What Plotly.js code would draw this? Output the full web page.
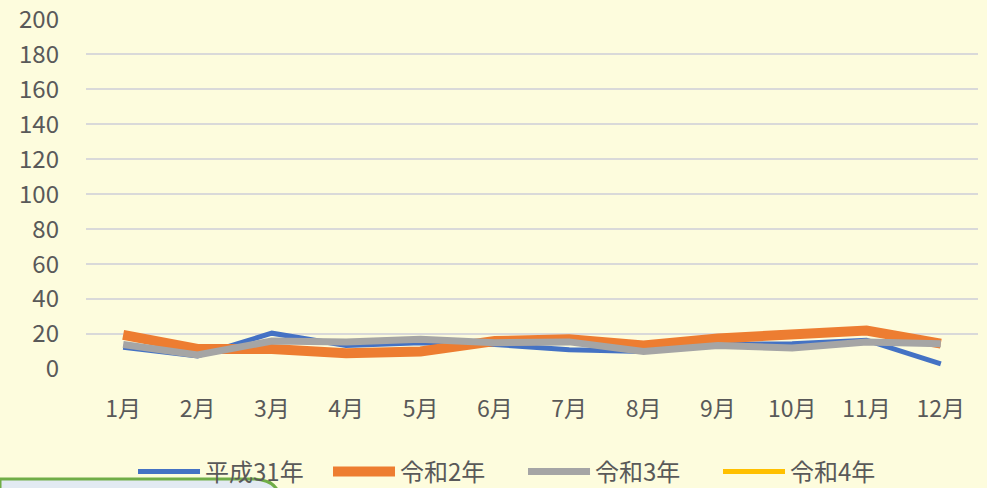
<!DOCTYPE html>
<html>
<head>
<meta charset="utf-8">
<script src="https://cdn.plot.ly/plotly-3.0.1.min.js"></script>
<style>html,body{margin:0;padding:0;background:#FDFCDD;}#chart{width:987px;height:488px;}</style>
</head>
<body>
<div id="chart"></div>
<script>
const months = ['1月','2月','3月','4月','5月','6月','7月','8月','9月','10月','11月','12月'];
const seriesNames = ['平成31年','令和2年','令和3年','令和4年'];
const h31 = [12.5, 7.5, 20.5, 13.5, 15, 14, 11, 10, 14, 14.5, 16.5, 3];
const r2  = [19.5, 11.5, 11.5, 9, 10, 16, 17, 13.5, 17.5, 19.5, 22, 14.5];
const r3  = [14, 8, 16, 15.5, 17, 15, 15.5, 10, 13.5, 12, 15.5, 14.5];
const r4  = [null, null, null, null, null, null, null, null, null, null, null, null];
const yTicks = [0,20,40,60,80,100,120,140,160,180,200];

const colors = ['#4472C4','#ED7D31','#A5A5A5','#FFC000'];
const widths = [5, 10, 7, 5];
const data = [h31, r2, r3, r4].map((ys, i) => ({
  type: 'scatter', mode: 'lines', x: months, y: ys, name: seriesNames[i],
  line: {color: colors[i], width: widths[i]}, connectgaps: false
}));

const F = '"Noto Sans CJK JP", "Noto Sans", sans-serif';
const layout = {
  width: 987, height: 488,
  paper_bgcolor: '#FDFCDD', plot_bgcolor: '#FDFCDD',
  margin: {l: 86, r: 9, t: 19, b: 119, autoexpand: false},
  font: {family: F, size: 24, color: '#595959'},
  showlegend: true,
  xaxis: {
    type: 'category', range: [-0.5, 11.5], showgrid: false, zeroline: false,
    showline: false, ticks: '', ticklabelstandoff: 24,
    tickfont: {family: F, size: 23, color: '#595959'}
  },
  yaxis: {
    range: [0, 200.2], tickvals: yTicks, showgrid: true, gridcolor: '#D9D9D9', gridwidth: 2,
    zeroline: false, showline: false, ticks: '', ticklabelstandoff: 26,
    ticklabeloverflow: 'allow',
    tickfont: {family: F, size: 24, color: '#595959'}
  },
  legend: {
    orientation: 'h', x: 0.0527, xanchor: 'left', y: -0.294, yanchor: 'middle',
    bgcolor: 'rgba(0,0,0,0)', itemwidth: 62, entrywidth: 118, entrywidthmode: 'pixels',
    font: {family: F, size: 24, color: '#595959'}
  },
  shapes: [{
    type: 'path', xref: 'paper', yref: 'paper', layer: 'above',
    path: 'M -0.0964,-0.38 L -0.0964,-0.314 L 0.185,-0.314 Q 0.2175,-0.314 0.2175,-0.38 Z',
    fillcolor: '#E2EAF2', line: {color: '#70AD47', width: 3}
  }]
};
Plotly.newPlot('chart', data, layout, {displayModeBar: false});
</script>
</body>
</html>
